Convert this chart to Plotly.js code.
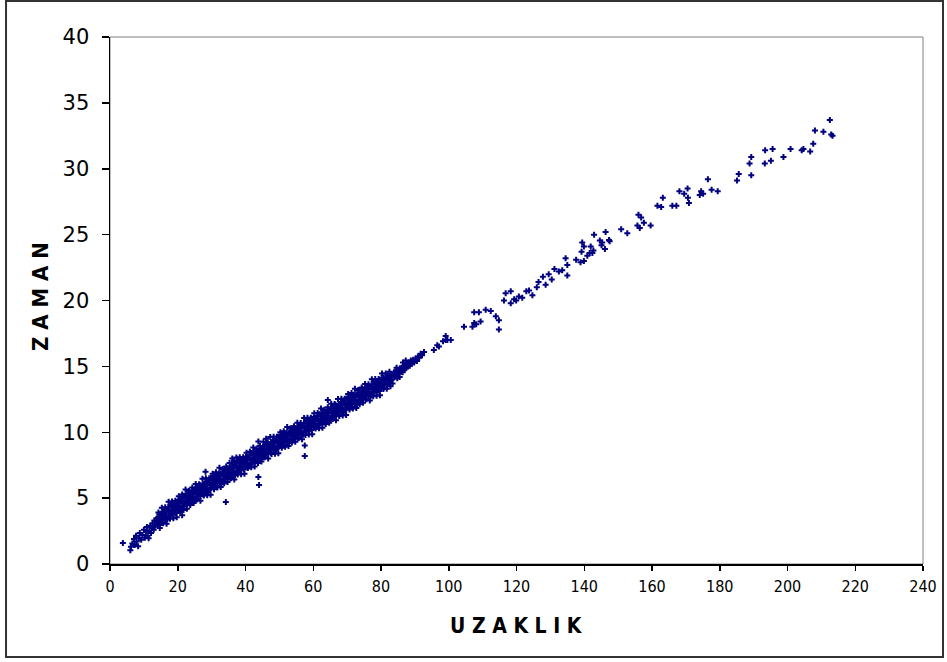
<!DOCTYPE html>
<html>
<head>
<meta charset="utf-8">
<script src="https://cdn.plot.ly/plotly-3.0.1.min.js"></script>
<style>
  html, body { margin: 0; padding: 0; background: #ffffff; }
  #chart { width: 947px; height: 662px; }
</style>
</head>
<body>
<div id="chart"></div>
<script>
// UZAKLIK (distance) vs ZAMAN (time) observations

// short trips at the lower end
const lowPoints = [
  [3.8,1.6],[6.0,1.05],[6.2,1.3],[6.6,1.55],[7.1,1.9],[7.3,1.45],[7.7,2.15],[7.9,1.7],[8.3,1.35],[8.6,2.0],
  [8.8,2.35],[9.2,1.85],[9.6,2.2],[10.0,2.6],[10.3,2.0],[10.6,2.45],[10.9,2.8],[11.1,2.15],[11.4,1.95],[11.6,2.55],
  [11.9,2.9],[12.1,2.35],[12.4,2.75],[12.6,3.1],[12.9,2.6],[13.1,3.3],[13.3,2.9],[13.6,3.05],[13.8,3.45],[14.0,2.95]
];

// the dense main band
const bandPoints = [
  [14.1,2.96],[14.25,3.54],[14.4,3.26],[14.55,3.78],[14.7,2.96],[14.85,3.48],[14.95,3.24],
  [15.05,3.81],[15.2,3.33],[15.35,3.6],[15.5,3.13],[15.65,3.95],[15.8,3.52],[15.9,3.84],
  [16.0,3.65],[16.15,4.12],[16.3,3.4],[16.45,3.92],[16.6,3.59],[16.75,4.11],[16.9,3.39],
  [17.1,4.07],[17.2,3.53],[17.4,4.31],[17.5,3.98],[17.65,3.75],[17.8,4.47],[17.95,3.99],
  [18.1,3.77],[18.25,4.34],[18.4,4.06],[18.55,4.58],[18.7,3.76],[18.85,4.28],[18.95,4.04],
  [19.05,4.56],[19.2,4.08],[19.35,4.35],[19.5,3.88],[19.65,4.7],[19.8,4.27],[19.9,4.59],
  [20.0,4.35],[20.15,4.82],[20.3,4.1],[20.45,4.62],[20.6,4.29],[20.75,4.81],[20.9,4.09],
  [21.1,4.77],[21.2,4.23],[21.4,5.01],[21.5,4.68],[21.65,4.45],[21.8,5.17],[21.95,4.69],
  [22.1,4.52],[22.25,5.09],[22.4,4.81],[22.55,5.33],[22.7,4.51],[22.85,5.03],[22.95,4.79],
  [23.05,5.26],[23.2,4.78],[23.35,5.05],[23.5,4.58],[23.65,5.4],[23.8,4.97],[23.9,5.29],
  [24.0,5.1],[24.15,5.57],[24.3,4.85],[24.45,5.37],[24.6,5.04],[24.75,5.56],[24.9,4.84],
  [25.1,5.47],[25.2,4.93],[25.4,5.71],[25.5,5.38],[25.65,5.15],[25.8,5.87],[25.95,5.39],
  [26.1,5.17],[26.25,5.74],[26.4,5.46],[26.55,5.98],[26.7,5.16],[26.85,5.68],[26.95,5.44],
  [27.05,5.96],[27.2,5.48],[27.35,5.75],[27.5,5.28],[27.65,6.1],[27.8,5.67],[27.9,5.99],
  [28.0,5.75],[28.15,6.22],[28.3,5.5],[28.45,6.02],[28.6,5.69],[28.75,6.21],[28.9,5.49],
  [29.1,6.12],[29.2,5.58],[29.4,6.36],[29.5,6.03],[29.65,5.8],[29.8,6.52],[29.95,6.04],
  [30.1,5.82],[30.25,6.39],[30.4,6.11],[30.55,6.63],[30.7,5.81],[30.85,6.33],[30.95,6.09],
  [31.05,6.61],[31.2,6.13],[31.35,6.4],[31.5,5.93],[31.65,6.75],[31.8,6.32],[31.9,6.64],
  [32.0,6.4],[32.15,6.87],[32.3,6.15],[32.45,6.67],[32.6,6.34],[32.75,6.86],[32.9,6.14],
  [33.1,6.77],[33.2,6.23],[33.4,7.01],[33.5,6.68],[33.65,6.45],[33.8,7.17],[33.95,6.69],
  [34.1,6.47],[34.25,7.04],[34.4,6.76],[34.55,7.28],[34.7,6.46],[34.85,6.98],[34.95,6.74],
  [35.05,7.21],[35.2,6.73],[35.35,7.0],[35.5,6.53],[35.65,7.35],[35.8,6.92],[35.9,7.24],
  [36.0,7.0],[36.15,7.47],[36.3,6.75],[36.45,7.27],[36.6,6.94],[36.75,7.46],[36.9,6.74],
  [37.1,7.42],[37.2,6.88],[37.4,7.66],[37.5,7.33],[37.65,7.1],[37.8,7.82],[37.95,7.34],
  [38.1,7.12],[38.25,7.69],[38.4,7.41],[38.55,7.93],[38.7,7.11],[38.85,7.63],[38.95,7.39],
  [39.05,7.86],[39.2,7.38],[39.35,7.65],[39.5,7.18],[39.65,8.0],[39.8,7.57],[39.9,7.89],
  [40.0,7.65],[40.15,8.12],[40.3,7.4],[40.45,7.92],[40.6,7.59],[40.75,8.11],[40.9,7.39],
  [41.1,8.02],[41.2,7.48],[41.4,8.26],[41.5,7.93],[41.65,7.7],[41.8,8.42],[41.95,7.94],
  [42.1,7.72],[42.25,8.29],[42.4,8.01],[42.55,8.53],[42.7,7.71],[42.85,8.23],[42.95,7.99],
  [43.05,8.46],[43.2,7.98],[43.35,8.25],[43.5,7.78],[43.65,8.6],[43.8,8.17],[43.9,8.49],
  [44.0,8.25],[44.15,8.72],[44.3,8.0],[44.45,8.52],[44.6,8.19],[44.75,8.71],[44.9,7.99],
  [45.1,8.67],[45.2,8.13],[45.4,8.91],[45.5,8.58],[45.65,8.35],[45.8,9.07],[45.95,8.59],
  [46.1,8.37],[46.25,8.94],[46.4,8.66],[46.55,9.18],[46.7,8.36],[46.85,8.88],[46.95,8.64],
  [47.05,9.11],[47.2,8.63],[47.35,8.9],[47.5,8.43],[47.65,9.25],[47.8,8.82],[47.9,9.14],
  [48.0,8.9],[48.15,9.37],[48.3,8.65],[48.45,9.17],[48.6,8.84],[48.75,9.36],[48.9,8.64],
  [49.1,9.27],[49.2,8.73],[49.4,9.51],[49.5,9.18],[49.65,8.95],[49.8,9.67],[49.95,9.19],
  [50.1,8.97],[50.25,9.54],[50.4,9.26],[50.55,9.78],[50.7,8.96],[50.85,9.48],[50.95,9.24],
  [51.05,9.71],[51.2,9.23],[51.35,9.5],[51.5,9.03],[51.65,9.85],[51.8,9.42],[51.9,9.74],
  [52.0,9.5],[52.15,9.97],[52.3,9.25],[52.45,9.77],[52.6,9.44],[52.75,9.96],[52.9,9.24],
  [53.1,9.87],[53.2,9.33],[53.4,10.11],[53.5,9.78],[53.65,9.55],[53.8,10.27],[53.95,9.79],
  [54.1,9.52],[54.25,10.09],[54.4,9.81],[54.55,10.33],[54.7,9.51],[54.85,10.03],[54.95,9.79],
  [55.05,10.26],[55.2,9.78],[55.35,10.05],[55.5,9.58],[55.65,10.4],[55.8,9.97],[55.9,10.29],
  [56.0,10.05],[56.15,10.52],[56.3,9.8],[56.45,10.32],[56.6,9.99],[56.75,10.51],[56.9,9.79],
  [57.1,10.42],[57.2,9.88],[57.4,10.66],[57.5,10.33],[57.65,10.1],[57.8,10.82],[57.95,10.34],
  [58.1,10.12],[58.25,10.69],[58.4,10.41],[58.55,10.93],[58.7,10.11],[58.85,10.63],[58.95,10.39],
  [59.05,10.86],[59.2,10.38],[59.35,10.65],[59.5,10.18],[59.65,11.0],[59.8,10.57],[59.9,10.89],
  [60.0,10.65],[60.15,11.12],[60.3,10.4],[60.45,10.92],[60.6,10.59],[60.75,11.11],[60.9,10.39],
  [61.1,10.97],[61.2,10.43],[61.4,11.21],[61.5,10.88],[61.65,10.65],[61.8,11.37],[61.95,10.89],
  [62.1,10.67],[62.25,11.24],[62.4,10.96],[62.55,11.48],[62.7,10.66],[62.85,11.18],[62.95,10.94],
  [63.05,11.41],[63.2,10.93],[63.35,11.2],[63.5,10.73],[63.65,11.55],[63.8,11.12],[63.9,11.44],
  [64.0,11.2],[64.15,11.67],[64.3,10.95],[64.45,11.47],[64.6,11.14],[64.75,11.66],[64.9,10.94],
  [65.1,11.57],[65.2,11.03],[65.4,11.81],[65.5,11.48],[65.65,11.25],[65.8,11.97],[65.95,11.49],
  [66.1,11.27],[66.25,11.84],[66.4,11.56],[66.55,12.08],[66.7,11.26],[66.85,11.78],[66.95,11.54],
  [67.05,12.01],[67.2,11.53],[67.35,11.8],[67.5,11.33],[67.65,12.15],[67.8,11.72],[67.9,12.04],
  [68.0,11.8],[68.15,12.27],[68.3,11.55],[68.45,12.07],[68.6,11.74],[68.75,12.26],[68.9,11.54],
  [69.1,12.17],[69.2,11.63],[69.4,12.41],[69.5,12.08],[69.65,11.85],[69.8,12.57],[69.95,12.09],
  [70.1,11.87],[70.25,12.44],[70.4,12.16],[70.55,12.68],[70.7,11.86],[70.85,12.38],[70.95,12.14],
  [71.05,12.61],[71.2,12.13],[71.35,12.4],[71.5,11.93],[71.65,12.75],[71.8,12.32],[71.9,12.64],
  [72.0,12.4],[72.15,12.87],[72.3,12.15],[72.45,12.67],[72.6,12.34],[72.75,12.86],[72.9,12.14],
  [73.1,12.77],[73.2,12.23],[73.4,13.01],[73.5,12.68],[73.65,12.45],[73.8,13.17],[73.95,12.69],
  [74.1,12.47],[74.25,13.04],[74.4,12.76],[74.55,13.28],[74.7,12.46],[74.85,12.98],[74.95,12.74],
  [75.05,13.21],[75.2,12.73],[75.35,13.0],[75.5,12.53],[75.65,13.35],[75.8,12.92],[75.9,13.24],
  [76.0,13.0],[76.15,13.47],[76.3,12.75],[76.45,13.27],[76.6,12.94],[76.75,13.46],[76.9,12.74],
  [77.1,13.37],[77.2,12.83],[77.4,13.61],[77.5,13.28],[77.65,13.05],[77.8,13.77],[77.95,13.29],
  [78.1,13.07],[78.25,13.64],[78.4,13.36],[78.55,13.88],[78.7,13.06],[78.85,13.58],[78.95,13.34],
  [79.05,13.81],[79.2,13.33],[79.35,13.6],[79.5,13.13],[79.65,13.95],[79.8,13.52],[79.9,13.84],
  [80.0,13.65],[80.15,14.12],[80.3,13.4],[80.45,13.92],[80.6,13.59],[80.75,14.11],[80.9,13.39]
];

// ragged upper and lower edges of the band
const edgePoints = [
  [14.3,3.9],[14.7,2.73],[15.3,4.27],[15.7,3.1],[16.3,4.3],[16.7,3.06],[17.3,4.73],[17.7,3.44],
  [18.3,4.75],[18.7,3.47],[19.3,4.8],[19.7,3.55],[20.3,5.15],[20.7,3.98],[21.3,5.27],[21.7,4.1],
  [22.3,5.65],[22.7,4.2],[23.3,5.56],[23.7,4.47],[24.3,5.8],[24.7,4.63],[25.3,6.07],[25.7,4.9],
  [26.3,6.05],[26.7,4.81],[27.3,6.48],[27.7,5.19],[28.3,6.5],[28.7,5.22],[29.3,6.5],[29.7,5.25],
  [30.3,6.85],[30.7,5.68],[31.3,6.97],[31.7,5.8],[32.3,7.3],[32.7,5.85],[33.3,7.21],[33.7,6.12],
  [34.3,7.4],[34.7,6.23],[35.3,7.67],[35.7,6.5],[36.3,7.65],[36.7,6.41],[37.3,8.08],[37.7,6.79],
  [38.3,8.1],[38.7,6.82],[39.3,8.1],[39.7,6.85],[40.3,8.45],[40.7,7.28],[41.3,8.52],[41.7,7.35],
  [42.3,8.85],[42.7,7.4],[43.3,8.76],[43.7,7.67],[44.3,8.95],[44.7,7.78],[45.3,9.27],[45.7,8.1],
  [46.3,9.25],[46.7,8.01],[47.3,9.63],[47.7,8.34],[48.3,9.65],[48.7,8.37],[49.3,9.65],[49.7,8.4],
  [50.3,10.0],[50.7,8.83],[51.3,10.07],[51.7,8.9],[52.3,10.4],[52.7,8.95],[53.3,10.31],[53.7,9.22],
  [54.3,10.45],[54.7,9.28],[55.3,10.72],[55.7,9.55],[56.3,10.7],[56.7,9.46],[57.3,11.08],[57.7,9.79],
  [58.3,11.1],[58.7,9.82],[59.3,11.1],[59.7,9.85],[60.3,11.45],[60.7,10.28],[61.3,11.47],[61.7,10.3],
  [62.3,11.8],[62.7,10.35],[63.3,11.71],[63.7,10.62],[64.3,11.9],[64.7,10.73],[65.3,12.17],[65.7,11.0],
  [66.3,12.15],[66.7,10.91],[67.3,12.53],[67.7,11.24],[68.3,12.55],[68.7,11.27],[69.3,12.55],[69.7,11.3],
  [70.3,12.9],[70.7,11.73],[71.3,12.97],[71.7,11.8],[72.3,13.3],[72.7,11.85],[73.3,13.21],[73.7,12.12],
  [74.3,13.4],[74.7,12.23],[75.3,13.67],[75.7,12.5],[76.3,13.65],[76.7,12.41],[77.3,14.03],[77.7,12.74],
  [78.3,14.05],[78.7,12.77],[79.3,14.05],[79.7,12.8],[80.3,14.45],[80.7,13.28]
];

// thinner upper end of the band
const tailPoints = [
  [81.1,13.7],[81.3,14.1],[81.6,13.95],[81.8,13.6],[81.95,14.2],[81.4,14.45],[81.7,13.3],
  [82.2,14.25],[82.4,13.8],[82.7,14.15],[82.9,13.95],[82.5,14.6],[82.8,13.5],
  [83.1,14.4],[83.3,14.0],[83.6,14.3],[83.85,14.55],[83.4,13.7],
  [84.0,14.2],[84.3,14.6],[84.5,14.35],[84.8,14.1],[84.6,14.9],
  [85.1,14.75],[85.3,14.45],[85.6,14.85],[85.9,14.6],[85.5,14.2],
  [86.2,14.9],[86.4,14.55],[86.7,15.05],[86.9,14.75],[86.5,15.3],
  [87.1,15.1],[87.4,14.85],[87.7,15.2],[87.9,15.0],[87.3,15.45],
  [88.2,15.3],[88.5,15.05],[88.8,15.45],
  [89.1,15.2],[89.5,15.5],[89.8,15.3],
  [90.2,15.6],[90.6,15.4],[90.9,15.75],
  [91.3,15.65],[91.7,15.95],[92.1,15.85],[92.7,16.1],
  [95.6,16.25],[96.6,16.6],[97.1,16.5],[98.3,16.9],[99.1,17.0],[99.1,17.3],[99.6,17.0],[100.6,17.0]
];

// points lying off the band
const outlierPoints = [
  [21.3,3.7],[34.2,4.7],[28.2,7.0],[36.1,8.0],[36.6,7.8],[43.8,9.3],[46.1,9.5],
  [43.8,6.6],[44.0,6.0],[57.5,9.0],[57.5,8.2],[64.3,12.45]
];

// long trips, scattered
const longPoints = [
  [104.5,18.0],[107.0,18.0],[107.5,18.3],[108.1,18.2],[109.4,18.4],[107.5,19.1],[108.9,19.1],
  [110.9,19.3],[112.4,19.2],[113.9,18.8],[114.8,18.5],[114.8,17.8],
  [116.3,20.0],[116.8,20.55],[118.3,20.7],[118.3,19.8],[119.3,20.1],[119.9,20.0],[120.7,20.3],
  [121.7,20.2],[122.9,20.7],[123.7,20.75],[124.7,20.4],
  [126.0,21.0],[126.5,21.4],[127.8,21.8],[128.6,21.2],[129.5,22.0],[130.4,21.6],[131.2,22.4],
  [132.5,22.2],[133.5,22.3],[134.5,23.2],[135.0,22.7],[135.0,21.9],[137.6,23.1],[138.9,22.9],
  [139.9,23.0],[139.2,23.7],[140.9,23.4],[139.4,24.4],[139.9,24.1],[141.9,24.1],[142.7,23.8],
  [141.6,23.6],[142.4,23.6],[142.9,25.0],
  [144.6,24.55],[145.1,24.2],[145.3,24.4],[146.1,23.9],[146.3,25.2],[147.3,24.6],[147.5,24.5],
  [150.9,25.4],[152.7,25.1],[155.7,25.7],[156.4,25.5],[157.6,25.9],[159.6,25.7],[156.0,26.5],
  [156.8,26.3],[161.6,27.2],[162.7,27.1],[163.2,27.8],[166.0,27.2],[167.2,27.2],[168.1,28.3],
  [169.5,28.1],[170.6,27.8],[170.9,27.4],[170.5,28.5],[174.1,28.0],[174.5,28.3],[175.1,28.1],
  [176.5,29.2],[177.6,28.4],[179.4,28.3],[185.1,29.1],[185.6,29.6],[188.8,30.4],[189.3,30.9],
  [189.3,29.5],[193.3,30.4],[193.4,31.4],[195.1,30.6],[195.6,31.5],[198.8,30.9],[200.9,31.5],
  [204.2,31.4],[204.7,31.5],[206.7,31.3],[207.6,31.9],[208.1,32.9],[210.6,32.8],[212.5,33.7],
  [212.9,32.6],[213.3,32.5]
];

const xTicks = [0, 20, 40, 60, 80, 100, 120, 140, 160, 180, 200, 220, 240];
const yTicks = [0, 5, 10, 15, 20, 25, 30, 35, 40];

const allPoints = [].concat(lowPoints, bandPoints, edgePoints, tailPoints, outlierPoints, longPoints);

const trace = {
  type: 'scatter',
  mode: 'markers',
  x: allPoints.map(p => p[0]),
  y: allPoints.map(p => p[1]),
  marker: { symbol: 'cross', size: 5, color: '#000080', line: { width: 0 } },
  hoverinfo: 'x+y'
};

const layout = {
  width: 947,
  height: 662,
  margin: { l: 110, r: 24, t: 37, b: 98 },
  paper_bgcolor: '#ffffff',
  plot_bgcolor: '#ffffff',
  showlegend: false,
  xaxis: {
    range: [0, 240],
    tickvals: xTicks,
    ticktext: xTicks.map(String),
    ticks: 'outside', ticklen: 5, tickwidth: 1.5, tickcolor: '#000000',
    showgrid: false, zeroline: false,
    showline: true, linecolor: '#000000', linewidth: 1.5,
    ticklabelstandoff: 2,
    tickfont: { family: 'DejaVu Sans Condensed, DejaVu Sans, sans-serif', size: 16, color: '#000000' }
  },
  yaxis: {
    range: [0, 40],
    tickvals: yTicks,
    ticktext: yTicks.map(String),
    ticks: 'outside', ticklen: 7, tickwidth: 1.5, tickcolor: '#000000',
    showgrid: false, zeroline: false,
    showline: true, linecolor: '#000000', linewidth: 1.5,
    ticklabelstandoff: 8,
    tickfont: { family: 'DejaVu Sans, sans-serif', size: 21, color: '#000000' }
  },
  shapes: [
    // grey frame of the plotting area
    { type: 'rect', xref: 'paper', yref: 'paper', x0: 0, x1: 1, y0: 0, y1: 1,
      line: { color: '#808080', width: 1 }, layer: 'below' },
    // outer chart border
    { type: 'rect', xref: 'paper', yref: 'paper', x0: -0.1279, x1: 1.0246, y0: -0.1765, y1: 1.0683,
      line: { color: '#333333', width: 2 }, layer: 'below' }
  ],
  annotations: [
    { text: ['Z', 'A', 'M', 'A', 'N'].join(' '), xref: 'paper', yref: 'paper', x: -0.0861, y: 0.5066,
      xanchor: 'center', yanchor: 'middle', textangle: -90, showarrow: false,
      font: { family: 'DejaVu Sans Condensed, DejaVu Sans, sans-serif', size: 22, color: '#000000', weight: 'bold' } },
    { text: ['U', 'Z', 'A', 'K', 'L', 'I', 'K'].join(' '), xref: 'paper', yref: 'paper', x: 0.4994, y: -0.1176,
      xanchor: 'center', yanchor: 'middle', showarrow: false,
      font: { family: 'DejaVu Sans Condensed, DejaVu Sans, sans-serif', size: 21, color: '#000000', weight: 'bold' } }
  ]
};

Plotly.newPlot('chart', [trace], layout, { displayModeBar: false, staticPlot: true });
</script>
</body>
</html>
